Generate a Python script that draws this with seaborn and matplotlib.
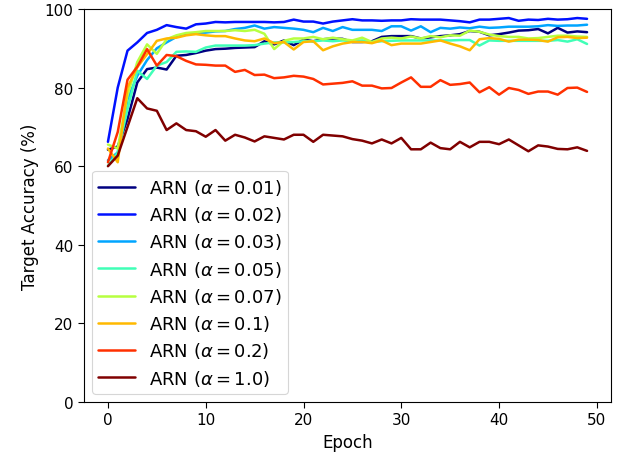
import numpy as np
import pandas as pd
import matplotlib
matplotlib.use("Agg")
import matplotlib.pyplot as plt
import seaborn as sns

epochs = list(range(50))

acc_001 = [64.2, 65.0, 72.0, 81.3, 84.7, 85.1, 84.6, 88.1, 88.3, 88.8, 89.4, 89.8, 89.9, 90.1, 90.2, 90.3, 91.8, 91.0, 92.0, 90.8,
           92.2, 91.8, 92.3, 92.5, 92.4, 91.6, 91.6, 91.8, 92.9, 93.1, 93.1, 93.1, 92.5, 92.8, 93.1, 93.3, 93.6, 94.4, 94.2, 93.3,
           93.6, 94.0, 94.5, 94.6, 94.9, 93.8, 95.2, 94.0, 94.3, 94.1]
acc_002 = [66.2, 80.0, 89.4, 91.5, 93.9, 94.7, 95.9, 95.4, 95.0, 96.1, 96.3, 96.7, 96.6, 96.7, 96.7, 96.7, 96.7, 96.6, 96.7, 97.3,
           96.8, 96.8, 96.3, 96.8, 97.1, 97.4, 97.1, 97.1, 97.0, 97.1, 97.1, 97.4, 97.3, 97.3, 97.3, 97.1, 96.9, 96.6, 97.3, 97.3,
           97.5, 97.7, 97.0, 97.3, 97.2, 97.5, 97.3, 97.4, 97.7, 97.5]
acc_003 = [61.5, 63.5, 77.0, 83.0, 87.0, 90.0, 91.5, 92.9, 93.5, 93.9, 94.0, 94.3, 94.4, 94.9, 95.2, 95.8, 95.0, 95.4, 95.2, 95.0,
           94.7, 94.1, 95.2, 94.4, 95.4, 94.7, 94.7, 94.7, 94.4, 95.6, 95.6, 94.5, 95.6, 94.1, 95.2, 95.0, 95.3, 95.1, 95.5, 95.2,
           95.3, 95.5, 95.5, 95.5, 95.6, 95.9, 95.7, 95.8, 95.8, 96.0]
acc_005 = [60.1, 63.5, 74.5, 84.3, 82.2, 85.6, 86.5, 89.1, 89.2, 89.1, 90.2, 90.7, 90.7, 90.7, 90.7, 90.8, 91.2, 91.5, 91.5, 91.6,
           91.8, 91.8, 92.0, 91.8, 92.0, 91.8, 92.0, 91.6, 91.8, 91.9, 92.0, 92.0, 92.0, 92.0, 92.0, 92.0, 92.1, 92.1, 90.7, 92.0,
           91.9, 91.9, 91.9, 91.9, 91.9, 91.9, 92.1, 91.7, 92.3, 91.1]
acc_007 = [65.5, 64.5, 78.0, 86.5, 91.0, 88.6, 92.3, 93.3, 93.9, 94.1, 94.4, 94.4, 94.4, 94.6, 94.4, 94.7, 93.7, 89.8, 91.9, 92.5,
           92.5, 92.9, 92.3, 92.7, 92.3, 92.0, 92.7, 91.6, 92.5, 92.7, 92.5, 93.0, 92.5, 93.1, 92.8, 93.3, 93.2, 94.5, 94.2, 93.5,
           93.1, 92.9, 92.9, 92.5, 92.6, 92.9, 93.2, 93.2, 93.0, 92.9]
acc_01 = [64.5, 61.0, 80.0, 85.2, 88.5, 91.9, 92.5, 92.7, 93.3, 93.6, 93.3, 93.1, 93.1, 92.5, 92.0, 91.8, 92.5, 91.3, 91.6, 89.7,
          91.6, 91.8, 89.5, 90.5, 91.2, 91.6, 91.6, 91.3, 92.0, 90.8, 91.2, 91.2, 91.2, 91.6, 92.0, 91.2, 90.5, 89.5, 92.3, 92.6,
          92.4, 91.7, 92.2, 92.2, 92.1, 91.7, 92.8, 92.9, 92.6, 92.7]
acc_02 = [61.0, 68.7, 82.0, 85.3, 89.8, 85.6, 88.3, 88.0, 86.8, 85.9, 85.8, 85.6, 85.6, 84.0, 84.5, 83.2, 83.3, 82.4, 82.6, 83.0,
          82.8, 82.2, 80.8, 81.0, 81.2, 81.6, 80.5, 80.5, 79.8, 79.9, 81.3, 82.6, 80.2, 80.2, 81.9, 80.7, 80.9, 81.3, 78.8, 80.1,
          78.2, 79.9, 79.4, 78.4, 79.0, 79.0, 78.2, 79.9, 80.0, 78.9]
acc_10 = [60.0, 62.7, 70.0, 77.3, 74.7, 74.1, 69.2, 70.9, 69.2, 68.9, 67.5, 69.2, 66.5, 68.0, 67.3, 66.3, 67.6, 67.2, 66.8, 68.0,
          68.0, 66.2, 68.0, 67.8, 67.6, 66.9, 66.5, 65.8, 66.8, 65.8, 67.2, 64.3, 64.3, 66.0, 64.6, 64.3, 66.2, 64.8, 66.2, 66.2,
          65.6, 66.8, 65.3, 63.8, 65.3, 65.0, 64.4, 64.3, 64.8, 63.9]

alphas = ["0.01", "0.02", "0.03", "0.05", "0.07", "0.1", "0.2", "1.0"]
series = [acc_001, acc_002, acc_003, acc_005, acc_007, acc_01, acc_02, acc_10]
labels = [r"ARN ($\alpha = %s$)" % a for a in alphas]

frames = []
for lab, vals in zip(labels, series):
    frames.append(pd.DataFrame({"Epoch": epochs, "Accuracy": vals, "Method": lab}))
df = pd.concat(frames, ignore_index=True)

sns.set_style("ticks")
plt.rcParams["font.family"] = ["DejaVu Sans"]
plt.rcParams["mathtext.fontset"] = "dejavusans"
plt.rcParams["text.color"] = "black"
plt.rcParams["axes.labelcolor"] = "black"

colors = [plt.cm.jet(v) for v in np.linspace(0, 1, len(labels))]

fig = plt.figure(figsize=(6.19, 4.6), dpi=100)
ax = fig.add_axes([84 / 619, 1 - 403 / 460, (611 - 84) / 619, (403 - 10) / 460])

sns.lineplot(data=df, x="Epoch", y="Accuracy", hue="Method", hue_order=labels,
             palette=colors, linewidth=1.8, ax=ax)

ax.set_ylim(0, 100)
ax.set_xticks([0, 10, 20, 30, 40, 50])
ax.set_yticks([0, 20, 40, 60, 80, 100])
ax.set_xlabel("Epoch", fontsize=12, color="black")
ax.set_ylabel("Target Accuracy (%)", fontsize=12, color="black")
ax.tick_params(labelsize=11, colors="black", direction="out", length=4)
for s in ax.spines.values():
    s.set_color("black")
    s.set_linewidth(0.8)

leg = ax.legend(loc="lower left", fontsize=13, frameon=True, handlelength=2.0,
                labelspacing=0.4, borderaxespad=0.45, handletextpad=0.8, borderpad=0.35)
leg.get_frame().set_edgecolor("#cccccc")
leg.get_frame().set_linewidth(0.8)
for h in leg.get_lines():
    h.set_linewidth(1.8)
for t in leg.get_texts():
    t.set_color("black")

fig.savefig("out.png", dpi=100)
